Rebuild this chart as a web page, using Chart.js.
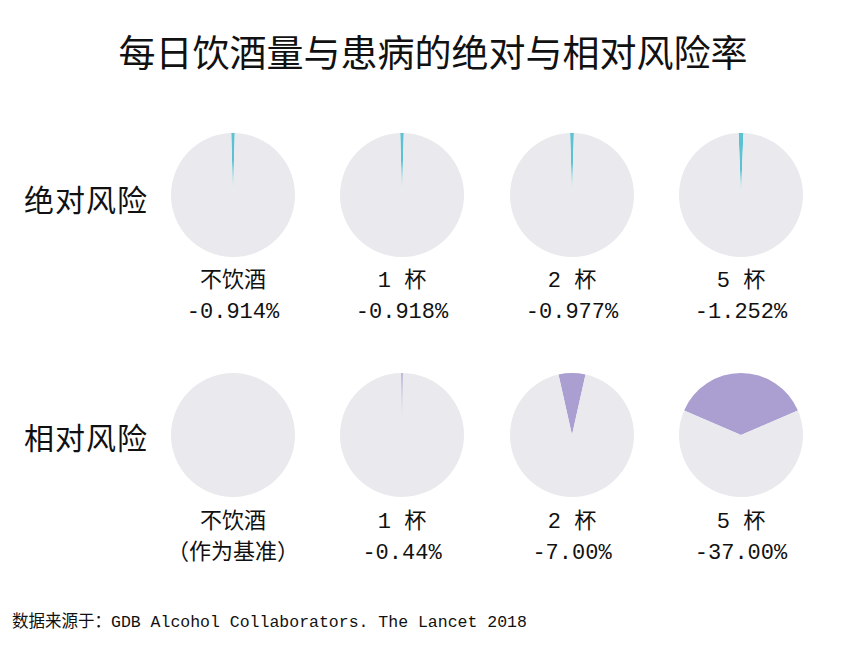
<!DOCTYPE html>
<html>
<head>
<meta charset="utf-8">
<script src="https://cdn.jsdelivr.net/npm/chart.js@4"></script>
<style>
  body { margin: 0; background: #fff; width: 860px; height: 645px; position: relative; overflow: hidden;
         font-family: "Noto Sans CJK SC", sans-serif; color: #111; }
  .title { position: absolute; top: 24px; left: 0; width: 866px; text-align: center; font-size: 37px; }
  .rowlabel { position: absolute; left: 24px; font-size: 30px; letter-spacing: 1px; }
  .pie { position: absolute; width: 124px; height: 124px; }
  .cap { position: absolute; width: 190px; text-align: center; font-size: 22px; line-height: 31px;
         font-family: "Liberation Mono", "Noto Sans CJK SC", monospace; }
  .source { position: absolute; left: 12px; top: 608px; font-size: 16.5px;
            font-family: "Liberation Mono", "Noto Sans CJK SC", monospace; }
</style>
</head>
<body>
<div class="title">每日饮酒量与患病的绝对与相对风险率</div>
<div class="rowlabel" style="top:176px">绝对风险</div>
<div class="rowlabel" style="top:414px">相对风险</div>
<div class="source">数据来源于：GDB Alcohol Collaborators. The Lancet 2018</div>

<script>
const groups = ["不饮酒", "1 杯", "2 杯", "5 杯"];
const absValues = [0.914, 0.918, 0.977, 1.252];
const relValues = [0, 0.44, 7.0, 37.0];
const relFirstNote = "（作为基准）";

const centersX = [233, 402, 572, 741];
const rows = [
  { values: absValues, color: "#5cc2d2", cy: 195, capY: 266, digits: 3 },
  { values: relValues, color: "#ab9fd1", cy: 435, capY: 507, digits: 2 },
];

rows.forEach((row, r) => {
  row.values.forEach((v, i) => {
    const wrap = document.createElement("div");
    wrap.className = "pie";
    wrap.style.left = centersX[i] - 62 + "px";
    wrap.style.top = row.cy - 62 + "px";
    const canvas = document.createElement("canvas");
    wrap.appendChild(canvas);
    document.body.appendChild(wrap);

    new Chart(canvas.getContext("2d"), {
      type: "pie",
      data: {
        labels: ["风险", "其他"],
        datasets: [
          {
            data: [v, 100 - v],
            backgroundColor: [row.color, "#e9e9ee"],
            borderWidth: 0,
          },
        ],
      },
      options: {
        responsive: true,
        maintainAspectRatio: false,
        animation: false,
        rotation: (-v * 3.6) / 2,
        plugins: { legend: { display: false }, tooltip: { enabled: false } },
      },
    });

    const cap = document.createElement("div");
    cap.className = "cap";
    cap.style.left = centersX[i] - 95 + "px";
    cap.style.top = row.capY + "px";
    const second = r === 1 && i === 0 ? relFirstNote : "-" + v.toFixed(row.digits) + "%";
    cap.innerHTML = groups[i] + "<br>" + second;
    document.body.appendChild(cap);
  });
});
</script>
</body>
</html>
